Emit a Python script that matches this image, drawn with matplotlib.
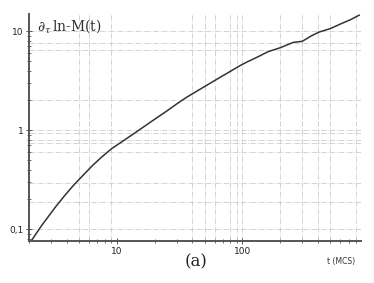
import numpy as np
import matplotlib
matplotlib.use('Agg')
import matplotlib.pyplot as plt

plt.rcParams['mathtext.fontset'] = 'dejavuserif'

# curve (t in MCS, d/dt ln M)
t_vals = [2.1, 2.5, 3.2, 3.8, 4.5, 6.3, 7.5, 9.1, 11.6, 13.9, 19, 25, 30, 36, 43, 52, 66, 80, 95, 108,
          131, 160, 200, 254, 300, 350, 408, 500, 620, 720, 850]
dlnm_vals = [0.077, 0.107, 0.163, 0.214, 0.275, 0.43, 0.528, 0.65, 0.80, 0.935, 1.23, 1.56, 1.84,
             2.15, 2.46, 2.84, 3.4, 3.92, 4.46, 4.86, 5.46, 6.2, 6.8, 7.7, 7.9, 8.9, 9.8, 10.6,
             12.0, 13.0, 14.5]

# scattered grid lines of the original scan
xgrid = [5, 6, 9, 40, 50, 60, 80, 90, 100, 200, 300, 400, 500, 800, 880]
ygrid = [10, 7.6, 6.4, 2, 1, 0.93, 0.8, 0.74, 0.6, 0.29, 0.19, 0.1]

fig = plt.figure(figsize=(3.74, 2.83), dpi=100)
ax = fig.add_axes([0.0775, 0.148, 0.888, 0.802])

for gx in xgrid:
    ax.axvline(gx, color='#cccccc', lw=0.6, ls='-.', zorder=0)
for gy in ygrid:
    ax.axhline(gy, color='#cccccc', lw=0.6, ls='-.', zorder=0)

ax.plot(t_vals, dlnm_vals, color='#333333', lw=1.1)

ax.set_xscale('log')
ax.set_yscale('log')
ax.set_xlim(2.0, 880)
ax.set_ylim(0.0756, 14.85)

ax.spines['top'].set_visible(False)
ax.spines['right'].set_visible(False)
for s in ['left', 'bottom']:
    ax.spines[s].set_color('#555555')
    ax.spines[s].set_linewidth(1.4)

ax.set_xticks([10, 100])
ax.set_xticklabels(['10', '100'])
ax.set_yticks([0.1, 1, 10])
ax.set_yticklabels(['0,1', '1', '10'])
ax.tick_params(which='major', direction='inout', length=4, width=0.7, colors='#555555',
               labelsize=6.5, labelcolor='#222222', pad=2)
ax.tick_params(which='minor', direction='inout', length=2.5, width=0.6, colors='#555555')
ax.yaxis.set_minor_formatter(matplotlib.ticker.NullFormatter())
ax.xaxis.set_minor_formatter(matplotlib.ticker.NullFormatter())

ax.text(0.025, 0.985, r'$\partial_\tau\,\mathrm{ln}\text{-}\mathrm{M(t)}$', transform=ax.transAxes,
        fontsize=10, va='top', ha='left', color='#333333')
fig.text(0.875, 0.075, 't (MCS)', fontsize=5.5, color='#333333', ha='left', va='center')
fig.text(0.525, 0.073, '(a)', fontsize=12, family='DejaVu Serif', color='#222222',
         ha='center', va='center')

fig.savefig('out.png', dpi=100)
